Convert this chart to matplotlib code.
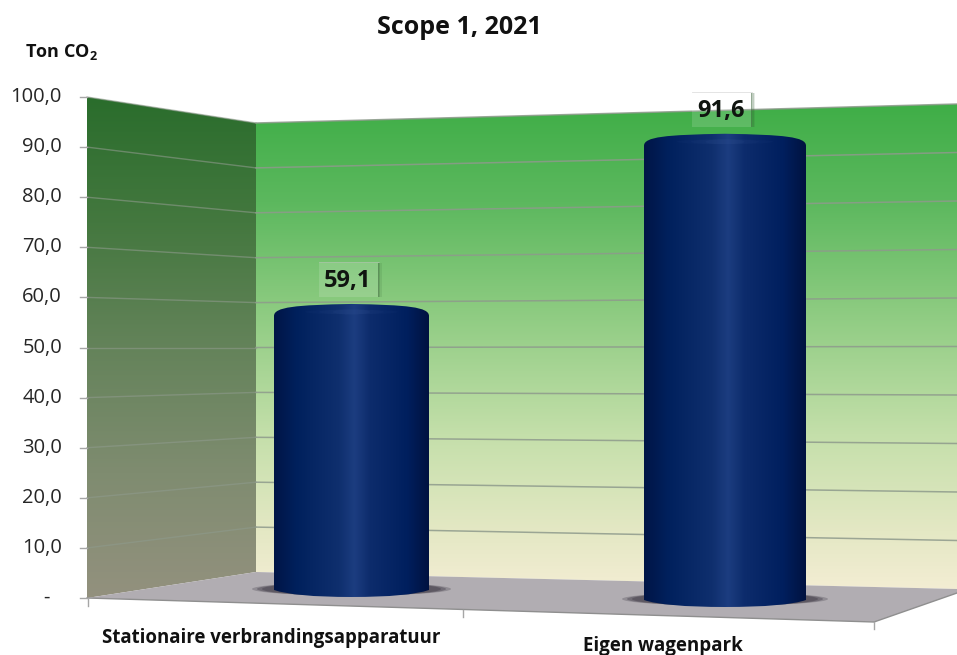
import numpy as np
import matplotlib
matplotlib.use('Agg')
import matplotlib.pyplot as plt
from matplotlib.colors import LinearSegmentedColormap
from matplotlib.patches import Polygon, PathPatch, Ellipse, Rectangle
from matplotlib.path import Path

plt.rcParams['font.family'] = ['Open Sans', 'DejaVu Sans']
plt.rcParams['mathtext.fontset'] = 'custom'
plt.rcParams['mathtext.bf'] = 'Open Sans:bold'

# Data
categories = ['Stationaire verbrandingsapparatuur', 'Eigen wagenpark']
values = [59.1, 91.6]
value_labels = ['59,1', '91,6']
y_ticks = [0, 10, 20, 30, 40, 50, 60, 70, 80, 90, 100]
y_tick_labels = ['-', '10,0', '20,0', '30,0', '40,0', '50,0', '60,0', '70,0', '80,0', '90,0', '100,0']

# Pixel geometry of the fake 3D box
LEFT_X, CORNER_X, RIGHT_X = 87, 256, 957
LEFT_BASE, CORNER_BASE, RIGHT_BASE = 598, 572, 589
LEFT_TOP, CORNER_TOP, RIGHT_TOP = 97, 123, 104
FRONT_X, FRONT_Y = 874, 622


def wall_y(val, x):
    # value on the walls -> pixel height, at pixel column x
    frac = val / 100
    if x <= CORNER_X:
        t = (x - LEFT_X) / (CORNER_X - LEFT_X)
        base = LEFT_BASE + t * (CORNER_BASE - LEFT_BASE)
        top = LEFT_TOP + t * (CORNER_TOP - LEFT_TOP)
    else:
        t = (x - CORNER_X) / (RIGHT_X - CORNER_X)
        base = CORNER_BASE + t * (RIGHT_BASE - CORNER_BASE)
        top = CORNER_TOP + t * (RIGHT_TOP - CORNER_TOP)
    return base + frac * (top - base)


fig = plt.figure(figsize=(9.57, 6.55), dpi=100)
ax = fig.add_axes([0, 0, 1, 1])
ax.set_xlim(0, 957)
ax.set_ylim(655, 0)
ax.axis('off')


def gradient_fill(points, colors, extent, horizontal=False, zorder=1):
    cmap = LinearSegmentedColormap.from_list('g', colors)
    ramp = np.linspace(0, 1, 256)
    img = ramp.reshape(1, -1) if horizontal else ramp.reshape(-1, 1)
    im = ax.imshow(img, cmap=cmap, extent=extent, origin='upper', aspect='auto', zorder=zorder)
    if isinstance(points, Path):
        clip = PathPatch(points, transform=ax.transData, fc='none', ec='none')
    else:
        clip = Polygon(points, transform=ax.transData, fc='none', ec='none')
    ax.add_patch(clip)
    im.set_clip_path(clip)
    return im


# Back wall
back_colors = [(0, '#3fae47'), (0.2, '#5cb85e'), (0.42, '#8ccb80'), (0.68, '#c4dfaa'), (0.88, '#e4e8c4'), (1, '#f3edd3')]
gradient_fill([(CORNER_X, CORNER_TOP), (RIGHT_X, RIGHT_TOP), (RIGHT_X, RIGHT_BASE), (CORNER_X, CORNER_BASE)],
              back_colors, (CORNER_X, RIGHT_X, 590, 104))

# Left wall
left_colors = [(0, '#2a6d2c'), (0.25, '#44783f'), (0.5, '#64835a'), (0.75, '#7f8c70'), (1, '#93917e')]
gradient_fill([(LEFT_X, LEFT_TOP), (CORNER_X, CORNER_TOP), (CORNER_X, CORNER_BASE), (LEFT_X, LEFT_BASE)],
              left_colors, (LEFT_X, CORNER_X, 598, 97))

# Floor
ax.add_patch(Polygon([(LEFT_X, LEFT_BASE), (CORNER_X, CORNER_BASE), (RIGHT_X, RIGHT_BASE),
                      (RIGHT_X, 593), (FRONT_X, FRONT_Y)],
                     fc='#b1adb2', ec='none', zorder=2))
ax.plot([LEFT_X, FRONT_X, RIGHT_X], [LEFT_BASE, FRONT_Y, 593], color='#8f8f8f', lw=1, zorder=2.1)

# Gridlines and y ticks
for val, lab in zip(y_ticks, y_tick_labels):
    yl, yc, yr = wall_y(val, LEFT_X), wall_y(val, CORNER_X), wall_y(val, RIGHT_X)
    if val > 0:
        ax.plot([LEFT_X, CORNER_X], [yl, yc], color='#8e9a8c', lw=1, alpha=0.6, zorder=3)
        ax.plot([CORNER_X, RIGHT_X], [yc, yr], color='#8e9a8c', lw=1.1, alpha=0.85, zorder=3)
    ax.plot([80, LEFT_X], [yl, yl], color='#a6a6a6', lw=1, zorder=3)
    ax.text(62 if val > 0 else 50, yl, lab, ha='right', va='center', fontsize=14.5, color='#262626', zorder=6)

# Front axis ticks
for x0, y0 in [(88, 599), (463, 610), (874, 622)]:
    ax.plot([x0, x0], [y0, y0 + 7], color='#a6a6a6', lw=1, zorder=3)

# Cylinders
centers = [351.5, 725]
half_widths = [77.5, 81]
bases = [590, 600]
bar_colors = [(0, '#001546'), (0.14, '#00205c'), (0.42, '#0f2f6e'), (0.52, '#1c3d80'),
              (0.62, '#0d2c6c'), (0.86, '#001f5e'), (1, '#001240')]

for cx, hw, yb, val, lab in zip(centers, half_widths, bases, values, value_labels):
    # bars get taller per unit towards the right, the box is in perspective
    unit_h = 4.84 + (cx - 351.5) * 0.25 / 373.5
    top = yb - unit_h * val
    xl, xr = cx - hw, cx + hw
    # soft floor shadow
    for extra, a in [(44, 0.35), (34, 0.5), (24, 0.7)]:
        ax.add_patch(Ellipse((cx, yb - 1), 2 * hw + extra, 13, fc='#55505a', ec='none', alpha=a, zorder=4))
    verts = [(xl, yb), (xl + 20, yb + 7), (cx, yb + 7), (xr - 20, yb + 7), (xr, yb),
             (xr, top + 12), (xr, top + 3), (xr - 22, top + 1), (cx, top), (xl + 22, top + 1), (xl, top + 3), (xl, top + 12),
             (xl, yb)]
    codes = [Path.MOVETO, Path.CURVE3, Path.CURVE3, Path.CURVE3, Path.CURVE3,
             Path.LINETO, Path.CURVE4, Path.CURVE4, Path.CURVE4, Path.CURVE4, Path.CURVE4, Path.CURVE4,
             Path.LINETO]
    gradient_fill(Path(verts, codes), bar_colors, (xl, xr, yb + 8, top), horizontal=True, zorder=5)
    for w, a in [(1.0, 0.06), (0.7, 0.08), (0.4, 0.1)]:
        ax.add_patch(Ellipse((cx, top + 8), 2 * hw * w * 0.6, 5, fc='#3a5a9a', ec='none', alpha=a, zorder=5.5))
    # label box
    ly = top - 23
    ax.add_patch(Rectangle((cx - 33, ly - 19), 60, 35, fc='white', ec='none', alpha=0.14, zorder=6))
    ax.plot([cx - 33, cx + 27], [ly - 19, ly - 19], color='#bfbfbf', lw=0.6, alpha=0.5, zorder=6)
    for w, a in [(4, 0.12), (2.5, 0.2), (1.2, 0.3)]:
        ax.add_patch(Rectangle((cx + 26, ly - 18), w, 34, fc='#2f5a2f', ec='none', alpha=a, zorder=6))
    ax.text(cx - 4, ly, lab, ha='center', va='center', fontsize=17, fontweight='bold', color='#101510', zorder=7)

# Text
ax.text(459, 28, 'Scope 1, 2021', ha='center', va='center', fontsize=18, fontweight='bold', color='#111111')
ax.text(25, 52, r'Ton CO$_{\mathbf{2}}$', ha='left', va='center', fontsize=13, fontweight='bold', color='#111111')
ax.text(271, 638, categories[0], ha='center', va='center', fontsize=13.4, fontweight='bold', color='#111111')
ax.text(663, 646, categories[1], ha='center', va='center', fontsize=13.5, fontweight='bold', color='#111111')

ax.set_xlim(0, 957)
ax.set_ylim(655, 0)
fig.savefig('out.png', dpi=100)
